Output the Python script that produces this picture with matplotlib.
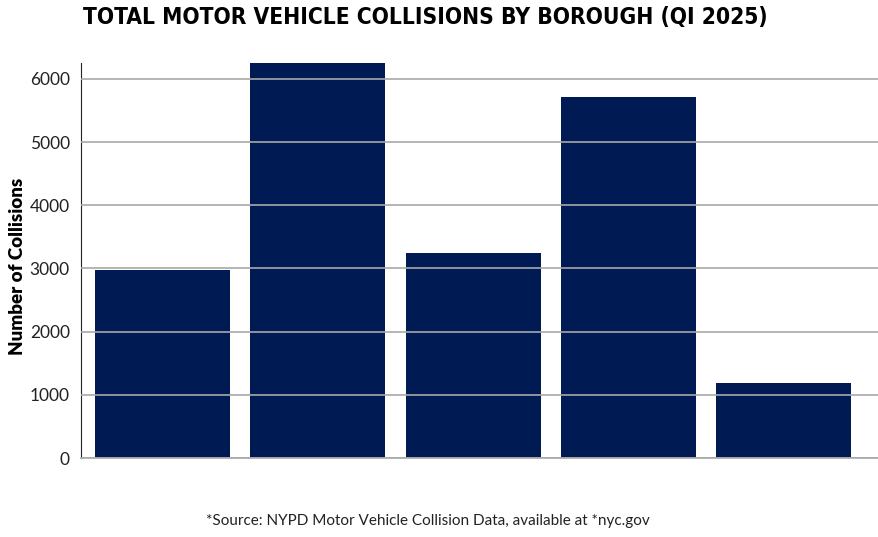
import matplotlib.pyplot as plt

boroughs = ['Bronx', 'Brooklyn', 'Manhattan', 'Queens', 'Staten Island']
collisions = [2980, 6253, 3245, 5715, 1187]
yticks = [0, 1000, 2000, 3000, 4000, 5000, 6000]

plt.rcParams['font.family'] = ['Lato', 'DejaVu Sans']

fig = plt.figure(figsize=(8.79, 5.37), dpi=100)
ax = fig.add_axes([0.0922, 0.1471, 0.9078, 0.7356])

x = range(len(boroughs))
ax.bar(x, collisions, width=0.87, color='#001a54', zorder=1)

ax.set_xlim(-0.525, 4.615)
ax.set_ylim(0, max(collisions))
ax.set_yticks(yticks)
ax.set_xticks([])
ax.yaxis.grid(True, color='#a8a8a8', linewidth=1.2, zorder=3)
ax.set_axisbelow(False)
ax.tick_params(axis='y', length=0, pad=8, labelsize=12.5, labelcolor='#222222')

for s in ['top', 'right']:
    ax.spines[s].set_visible(False)
ax.spines['left'].set_color('#222222')
ax.spines['bottom'].set_color('#a8a8a8')
ax.spines['bottom'].set_linewidth(1.2)

ax.set_ylabel('Number of Collisions', fontsize=13.5, fontweight='heavy')
ax.yaxis.set_label_coords(-0.069, 0.485)

fig.text(0.4835, 0.968, 'TOTAL MOTOR VEHICLE COLLISIONS BY BOROUGH (QI 2025)',
         ha='center', va='center', fontsize=16.3, fontweight='bold',
         family='DejaVu Sans', fontstretch='condensed')
fig.text(0.487, 0.03, '*Source: NYPD Motor Vehicle Collision Data, available at *nyc.gov',
         ha='center', va='center', fontsize=11, color='#222222')

fig.savefig('out.png', dpi=100)
